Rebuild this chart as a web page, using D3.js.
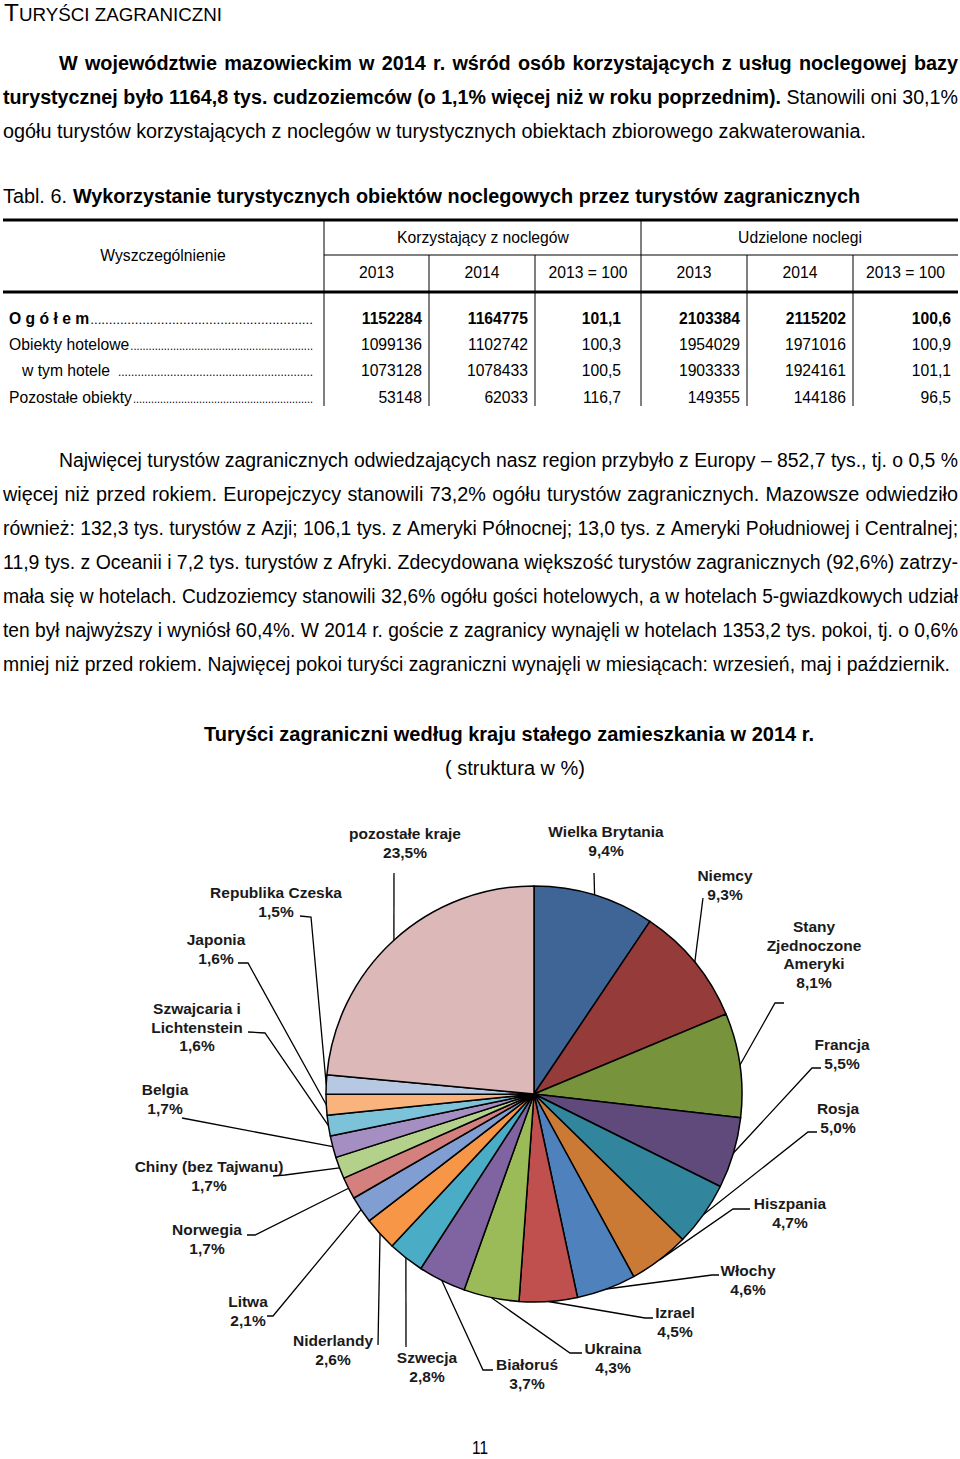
<!DOCTYPE html>
<html>
<head>
<meta charset="utf-8">
<script src="https://cdn.jsdelivr.net/npm/d3@7"></script>
<style>
  body { margin: 0; background: #fff; }
</style>
</head>
<body>
<script>
// ---- data ----
const intro = [
  [{t: "W województwie mazowieckim w 2014 r. wśród osób korzystających z usług noclegowej bazy", b: true}],
  [{t: "turystycznej było 1164,8 tys. cudzoziemców (o 1,1% więcej niż w roku poprzednim).", b: true}, {t: "Stanowili oni 30,1%", b: false}],
  [{t: "ogółu turystów korzystających z noclegów w turystycznych obiektach zbiorowego zakwaterowania.", b: false}]
];
const secondPara = [
  "Najwięcej turystów zagranicznych odwiedzających nasz region przybyło z Europy – 852,7 tys., tj. o 0,5 %",
  "więcej niż przed rokiem. Europejczycy stanowili 73,2% ogółu turystów zagranicznych. Mazowsze odwiedziło",
  "również: 132,3 tys. turystów z Azji; 106,1 tys. z Ameryki Północnej; 13,0 tys. z Ameryki Południowej i Centralnej;",
  "11,9 tys. z Oceanii i 7,2 tys. turystów z Afryki. Zdecydowana większość turystów zagranicznych (92,6%) zatrzy-",
  "mała się w hotelach. Cudzoziemcy stanowili 32,6% ogółu gości hotelowych, a w hotelach 5-gwiazdkowych udział",
  "ten był najwyższy i wyniósł 60,4%. W 2014 r. goście z zagranicy wynajęli w hotelach 1353,2 tys. pokoi, tj. o 0,6%",
  "mniej niż przed rokiem. Najwięcej pokoi turyści zagraniczni wynajęli w miesiącach: wrzesień, maj i październik."
];

const rowLabels = ["O g ó ł e m", "Obiekty hotelowe", "w tym hotele", "Pozostałe obiekty"];
const guests2013 = [1152284, 1099136, 1073128, 53148];
const guests2014 = [1164775, 1102742, 1078433, 62033];
const guestsIndex = ["101,1", "100,3", "100,5", "116,7"];
const nights2013 = [2103384, 1954029, 1903333, 149355];
const nights2014 = [2115202, 1971016, 1924161, 144186];
const nightsIndex = ["100,6", "100,9", "101,1", "96,5"];
const subHeads = ["2013", "2014", "2013 = 100", "2013", "2014", "2013 = 100"];

const countries = ["Wielka Brytania", "Niemcy", "Stany\nZjednoczone\nAmeryki", "Francja", "Rosja",
  "Hiszpania", "Włochy", "Izrael", "Ukraina", "Białoruś", "Szwecja", "Niderlandy", "Litwa",
  "Norwegia", "Chiny (bez Tajwanu)", "Belgia", "Szwajcaria i\nLichtenstein", "Japonia",
  "Republika Czeska", "pozostałe kraje"];
const shares = [9.4, 9.3, 8.1, 5.5, 5.0, 4.7, 4.6, 4.5, 4.3, 3.7, 2.8, 2.6, 2.1, 1.7, 1.7, 1.7, 1.6, 1.6, 1.5, 23.5];
const sliceColors = ["#3f6597", "#953b39", "#77933c", "#604a7b", "#31859c", "#cb7a36", "#4f81bd",
  "#c0504d", "#9bbb59", "#8064a2", "#4bacc6", "#f79646", "#809ed2", "#d4807e", "#b3d18a",
  "#a58fc2", "#7cc2d8", "#f9b47e", "#b7c8e2", "#ddb8b8"];

// label placement: centre x, first baseline, leader bend points
const labelPos = [
  {x: 606, y: 837, pts: [[594, 873]]},
  {x: 725, y: 881, pts: [[703, 898]]},
  {x: 814, y: 932, pts: [[775, 1003], [784, 1003]]},
  {x: 842, y: 1050, pts: [[812, 1068], [821, 1068]]},
  {x: 838, y: 1114, pts: [[808, 1132], [817, 1132]]},
  {x: 790, y: 1209, pts: [[733, 1209], [750, 1209]]},
  {x: 748, y: 1276, pts: [[712, 1275], [719, 1275]]},
  {x: 675, y: 1318, pts: [[645, 1318], [653, 1318]]},
  {x: 613, y: 1354, pts: [[570, 1353], [582, 1353]]},
  {x: 527, y: 1370, pts: [[483, 1370], [493, 1370]]},
  {x: 427, y: 1363, pts: [[406, 1347]]},
  {x: 333, y: 1346, pts: [[378, 1345]]},
  {x: 248, y: 1307, pts: [[273, 1316], [267, 1316]]},
  {x: 207, y: 1235, pts: [[255, 1235], [247, 1235]]},
  {x: 209, y: 1172, pts: [[285, 1175], [273, 1176]]},
  {x: 165, y: 1095, pts: [[182, 1118]]},
  {x: 197, y: 1014, pts: [[265, 1033], [248, 1032]]},
  {x: 216, y: 945, pts: [[248, 963], [238, 963]]},
  {x: 276, y: 898, pts: [[311, 917], [300, 916]]},
  {x: 405, y: 839, pts: [[394, 873]]}
];

// ---- drawing ----
const W = 960, H = 1459;
const ARIAL = "'Liberation Sans',Arial,sans-serif";
const FS = 20;

const svg = d3.select("body").append("svg").attr("width", W).attr("height", H)
  .style("font-family", ARIAL);

function measure(str, bold) {
  const t = svg.append("text").style("font-size", FS + "px").style("font-weight", bold ? "bold" : "normal").text(str);
  const w = t.node().getComputedTextLength();
  t.remove();
  return w;
}
const SPACE = measure("a a") - measure("aa");
// narrowing factor taken from the unjustified last line of the intro (ends at x=866)
const NARROW_K = 863 / measure(intro[2][0].t, false);

// line of squeezed words placed between x0 and x1
function textLine(segs, x0, x1, y) {
  const words = [];
  segs.forEach(s => s.t.split(" ").forEach(w => words.push({w: w, b: s.b})));
  const els = words.map(d => svg.append("text").attr("y", y).text(d.w)
    .style("font-size", FS + "px").style("font-weight", d.b ? "bold" : "normal"));
  const nat = els.map(e => e.node().getComputedTextLength());
  const room = x1 - x0;
  const k = Math.min(NARROW_K, room / (d3.sum(nat) + SPACE * (words.length - 1)));
  const widths = nat.map(w => w * k);
  const gap = (room - d3.sum(widths)) / (words.length - 1);
  let x = x0;
  els.forEach((e, i) => {
    e.attr("x", x).attr("textLength", widths[i]).attr("lengthAdjust", "spacingAndGlyphs");
    x += widths[i] + gap;
  });
}

// heading
const head = svg.append("text").attr("x", 4).attr("y", 21)
  .attr("textLength", 218).attr("lengthAdjust", "spacingAndGlyphs");
head.append("tspan").text("T").style("font-size", "24px");
head.append("tspan").text("URYŚCI ZAGRANICZNI").style("font-size", "18.5px");

textLine(intro[0], 59, 958, 70);
textLine(intro[1], 3, 958, 104);
textLine(intro[2], 3, 866, 138);

textLine([{t: "Tabl. 6.", b: false}, {t: "Wykorzystanie turystycznych obiektów noclegowych przez turystów zagranicznych", b: true}],
  3, 860, 203);

// table
const tbl = svg.append("g").style("font-size", "15.7px");
const colEdges = [324, 429, 535, 641, 747, 853, 958];
tbl.append("line").attr("x1", 3).attr("x2", 958).attr("y1", 220).attr("y2", 220).attr("stroke", "#000").attr("stroke-width", 3);
tbl.append("line").attr("x1", 3).attr("x2", 958).attr("y1", 292).attr("y2", 292).attr("stroke", "#000").attr("stroke-width", 3);
tbl.append("line").attr("x1", 324).attr("x2", 958).attr("y1", 255).attr("y2", 255).attr("stroke", "#000").attr("stroke-width", 1);
[324, 641].forEach(x => tbl.append("line").attr("x1", x).attr("x2", x).attr("y1", 221).attr("y2", 291).attr("stroke", "#000"));
[429, 535, 747, 853].forEach(x => tbl.append("line").attr("x1", x).attr("x2", x).attr("y1", 255).attr("y2", 291).attr("stroke", "#000"));
colEdges.slice(0, 6).forEach(x => tbl.append("line").attr("x1", x).attr("x2", x).attr("y1", 293).attr("y2", 406).attr("stroke", "#000"));

tbl.append("text").attr("x", 163).attr("y", 261).attr("text-anchor", "middle").text("Wyszczególnienie");
tbl.append("text").attr("x", 483).attr("y", 243).attr("text-anchor", "middle").text("Korzystający z noclegów");
tbl.append("text").attr("x", 800).attr("y", 243).attr("text-anchor", "middle").text("Udzielone noclegi");
subHeads.forEach((s, i) => tbl.append("text").attr("x", (colEdges[i] + colEdges[i + 1]) / 2).attr("y", 278)
  .attr("text-anchor", "middle").text(s));

const rowY = [324, 350, 376, 403];
const numRight = [422, 528, 621, 740, 846, 951];
const columns = [guests2013, guests2014, guestsIndex, nights2013, nights2014, nightsIndex];
rowLabels.forEach((lab, r) => {
  const bold = r === 0;
  const lx = r === 2 ? 22 : 9;
  const lt = tbl.append("text").attr("x", lx).attr("y", rowY[r]).text(lab)
    .style("font-weight", bold ? "bold" : "normal");
  const end = lx + lt.node().getComputedTextLength() + (r === 2 ? 8 : 1);
  tbl.append("text").attr("x", end).attr("y", rowY[r]).text(".".repeat(60))
    .attr("textLength", 313 - end).attr("lengthAdjust", "spacingAndGlyphs")
    .style("font-size", "13px");
  columns.forEach((col, c) => {
    tbl.append("text").attr("x", numRight[c]).attr("y", rowY[r]).attr("text-anchor", "end")
      .style("font-weight", bold ? "bold" : "normal").text(String(col[r]));
  });
});

secondPara.forEach((ln, i) => {
  textLine([{t: ln, b: false}], i === 0 ? 59 : 3, i === 6 ? 950 : 958, 467 + i * 34);
});

// chart title
svg.append("text").attr("x", 509).attr("y", 741).attr("text-anchor", "middle")
  .style("font-weight", "bold").style("font-size", "20px")
  .text("Turyści zagraniczni według kraju stałego zamieszkania  w 2014 r.");
svg.append("text").attr("x", 515).attr("y", 775).attr("text-anchor", "middle")
  .style("font-size", "20px").text("( struktura w %)");

// pie
const cx = 534, cy = 1094, R = 208;
const pie = d3.pie().sort(null).value(d => d);
const arcs = pie(shares);
const arc = d3.arc().innerRadius(0).outerRadius(R);
const edge = d3.arc().innerRadius(R).outerRadius(R);
const pg = svg.append("g").attr("transform", `translate(${cx},${cy})`);
pg.selectAll("path").data(arcs).join("path")
  .attr("d", arc)
  .attr("fill", (d, i) => sliceColors[i])
  .attr("stroke", "#000").attr("stroke-width", 1.5).attr("stroke-linejoin", "round");

// leaders and labels
const lg = svg.append("g").style("font-weight", "bold").style("font-size", "15.5px");
arcs.forEach((d, i) => {
  const c = edge.centroid(d);
  const pts = [[cx + c[0], cy + c[1]]].concat(labelPos[i].pts);
  lg.append("path").attr("d", d3.line()(pts)).attr("fill", "none").attr("stroke", "#000").attr("stroke-width", 1.3);
  const lines = countries[i].split("\n").concat([shares[i].toFixed(1).replace(".", ",") + "%"]);
  const t = lg.append("text").attr("text-anchor", "middle").attr("fill", "#1a1a1a");
  lines.forEach((l, k) => t.append("tspan").attr("x", labelPos[i].x).attr("y", labelPos[i].y + k * 18.5).text(l));
});

// page number
svg.append("text").attr("x", 480).attr("y", 1454).attr("text-anchor", "middle")
  .attr("textLength", 16).attr("lengthAdjust", "spacingAndGlyphs")
  .style("font-size", "19px").text("11");
</script>
</body>
</html>
